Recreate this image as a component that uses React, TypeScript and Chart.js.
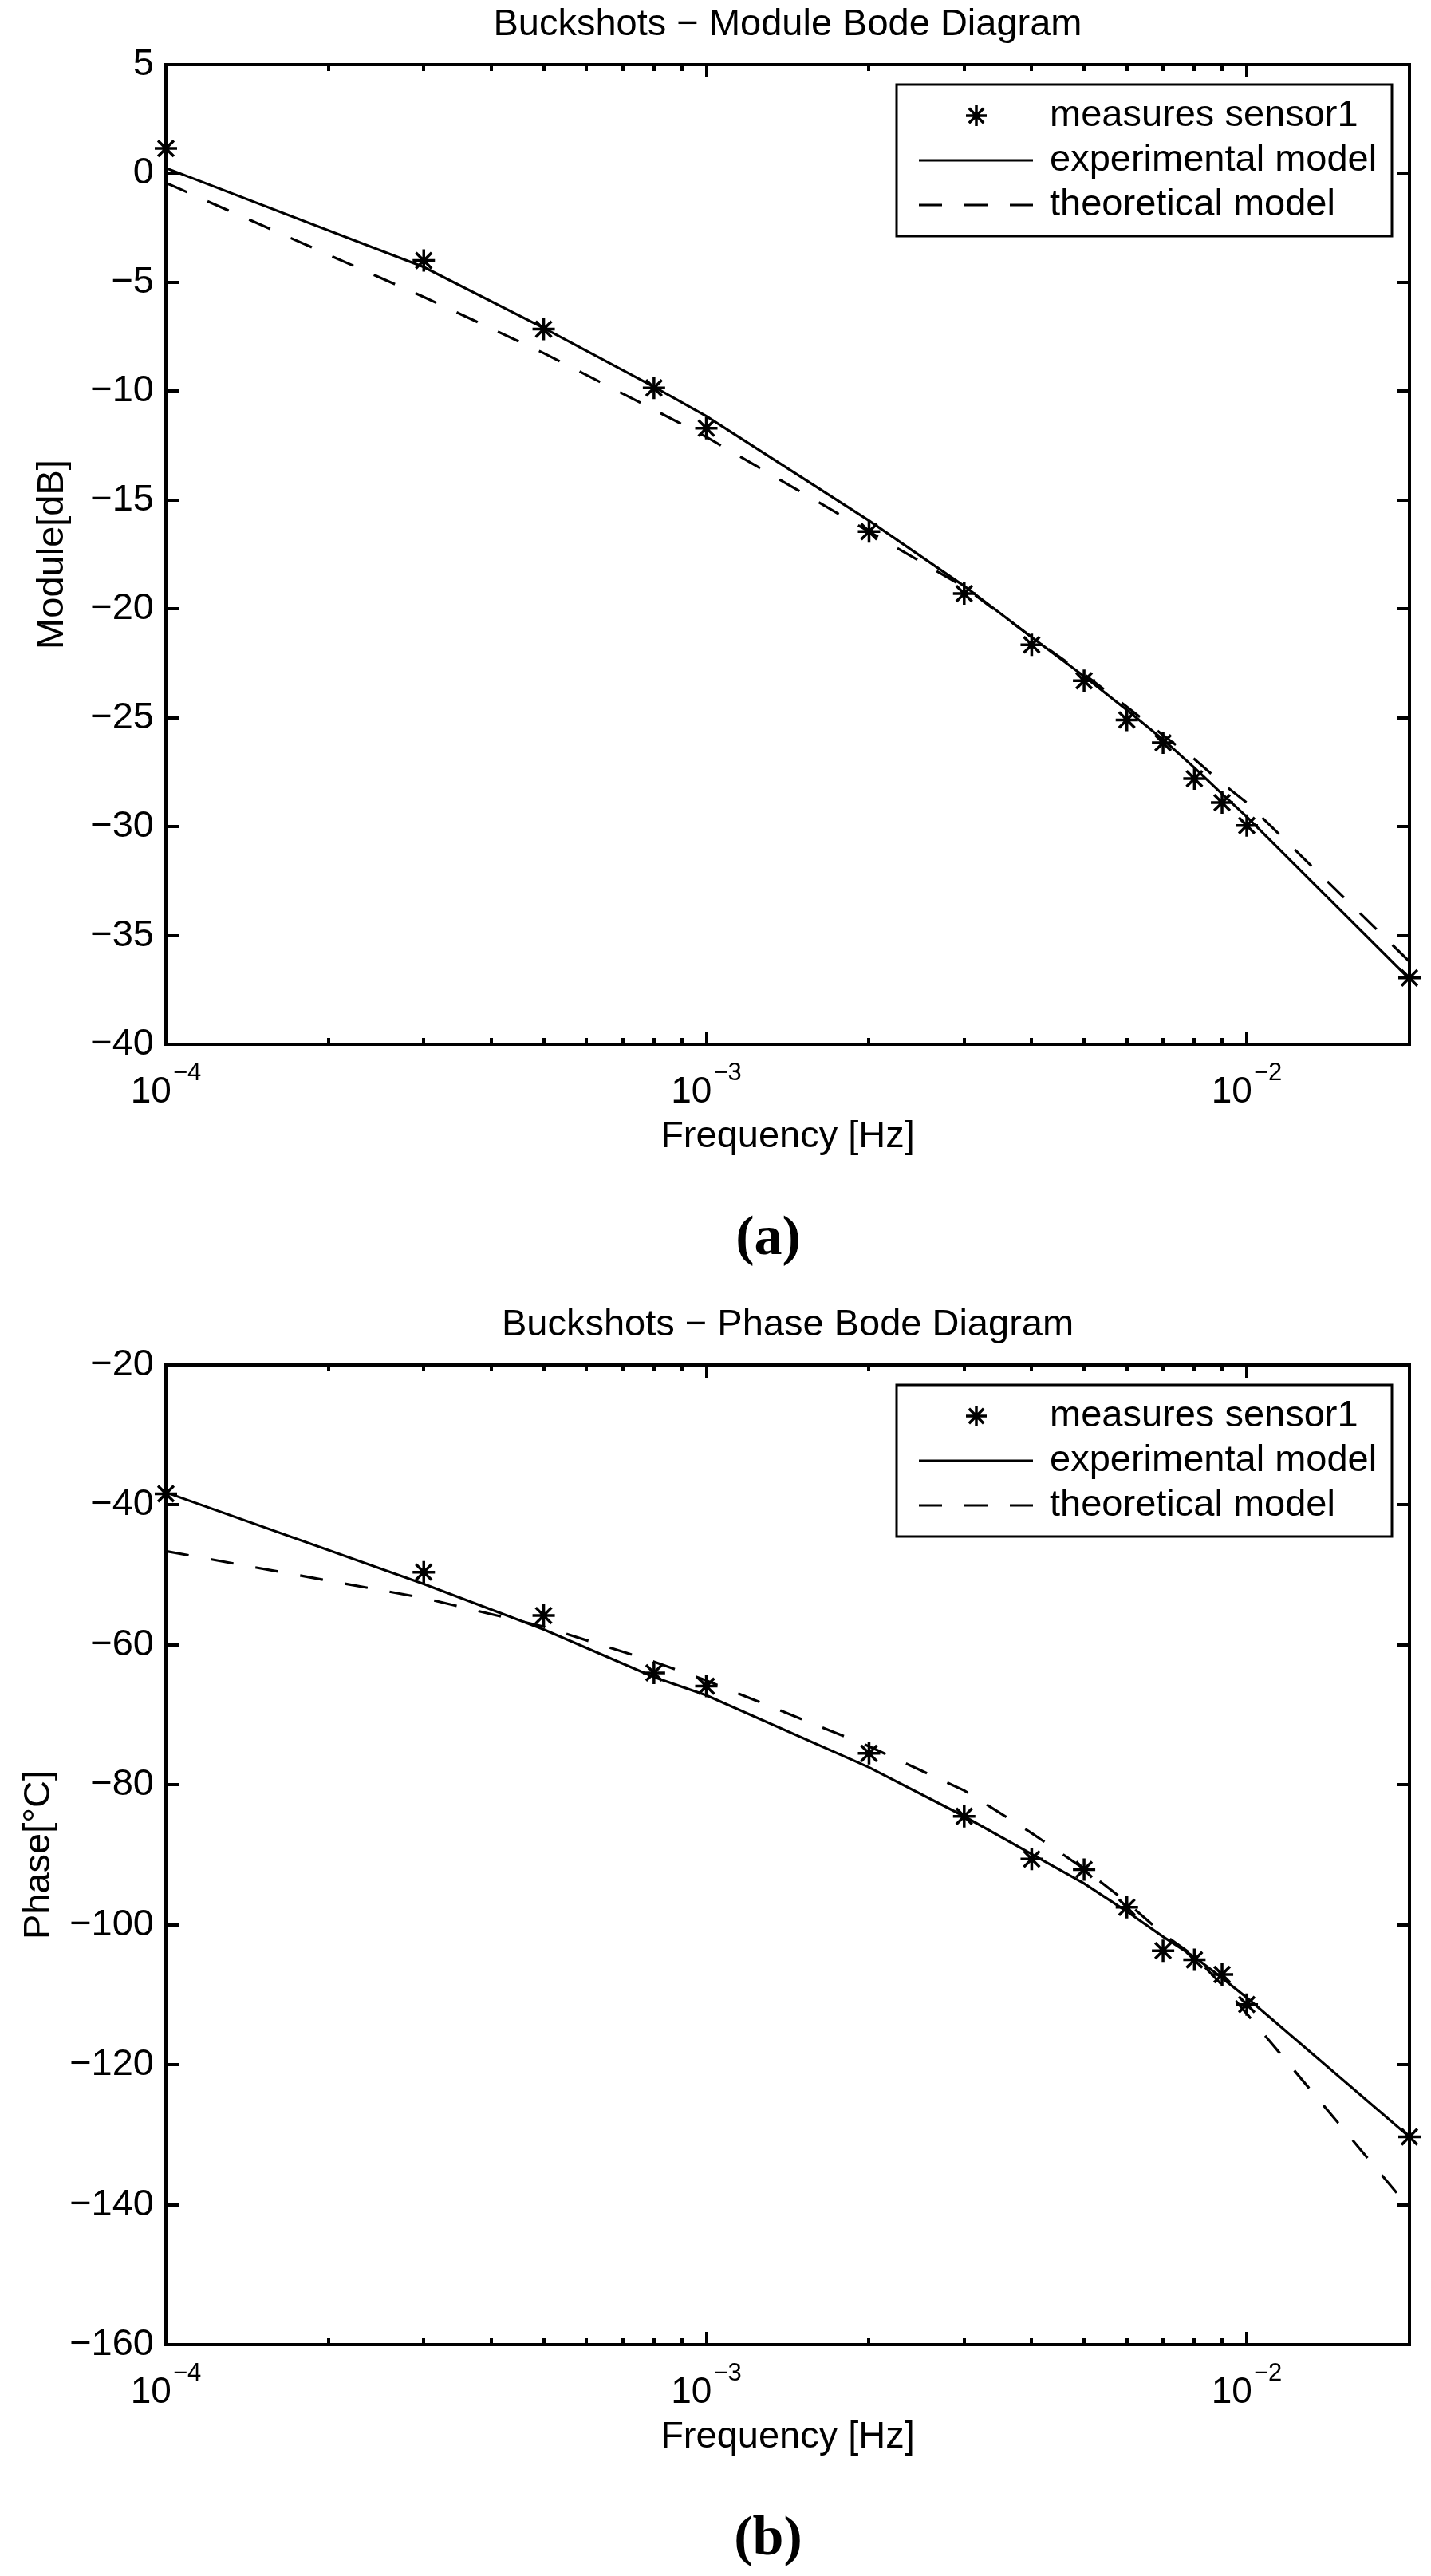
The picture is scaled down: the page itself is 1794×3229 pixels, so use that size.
import React, { useEffect, useRef } from 'react';
import { Chart, registerables } from 'chart.js';

Chart.register(...registerables);

// ---------- data ----------
const frequencies = [1e-4, 3e-4, 5e-4, 8e-4, 1e-3, 2e-3, 3e-3, 4e-3, 5e-3, 6e-3, 7e-3, 8e-3, 9e-3, 1e-2, 2e-2];

const moduleMeasures = [1.15, -4.0, -7.15, -9.85, -11.7, -16.45, -19.3, -21.65, -23.3, -25.1, -26.15, -27.8, -28.9, -29.95, -36.95];
const moduleExperimental = [0.25, -4.3, -7.1, -9.8, -11.15, -15.95, -18.95, -21.3, -23.1, -24.65, -26.0, -27.3, -28.5, -29.55, -37.0];
const moduleTheoretical = [-0.43, -5.67, -8.25, -10.85, -12.1, -16.45, -19.0, -21.3, -23.0, -24.5, -25.8, -26.9, -28.0, -28.9, -36.2];

const phaseMeasures = [-38.4, -49.6, -55.8, -64.0, -65.9, -75.5, -84.5, -90.6, -92.1, -97.5, -103.7, -105.0, -107.1, -111.4, -130.3];
const phaseExperimental = [-38.2, -51.3, -57.8, -64.6, -67.2, -77.5, -84.5, -89.9, -94.1, -98.1, -101.7, -104.6, -107.6, -110.4, -130.3];
const phaseTheoretical = [-46.6, -53.3, -57.4, -62.4, -65.1, -74.5, -80.8, -86.9, -92.0, -96.8, -101.3, -104.5, -108.6, -112.7, -140.5];

const moduleYTicks = [5, 0, -5, -10, -15, -20, -25, -30, -35, -40];
const phaseYTicks = [-20, -40, -60, -80, -100, -120, -140, -160];
const xDecades = [1e-4, 1e-3, 1e-2];
const xDecadeExponents = ['\u22124', '\u22123', '\u22122'];
const legendLabels = ['measures sensor1', 'experimental model', 'theoretical model'];

// ---------- style ----------
const FONT = "'Liberation Sans', Arial, Helvetica, sans-serif";
const SERIF = "'Liberation Serif', 'Times New Roman', serif";
const DASH = [29, 28];
const W = 1794;

type Panel = {
  title: string;
  yTitle: string;
  yTitleX: number;
  yMin: number;
  yMax: number;
  yTicks: number[];
  measures: number[];
  experimental: number[];
  theoretical: number[];
  caption: string;
  height: number;
};

const fmt = (v: number) => (v < 0 ? '\u2212' + Math.abs(v) : String(v));

function drawStar(ctx: CanvasRenderingContext2D, x: number, y: number, r: number) {
  const d = r * Math.SQRT1_2;
  ctx.beginPath();
  ctx.moveTo(x, y - r); ctx.lineTo(x, y + r);
  ctx.moveTo(x - r, y); ctx.lineTo(x + r, y);
  ctx.moveTo(x - d, y - d); ctx.lineTo(x + d, y + d);
  ctx.moveTo(x - d, y + d); ctx.lineTo(x + d, y - d);
  ctx.stroke();
}

const matlabPlugin = {
  id: 'matlab',
  afterDraw(chart: any, _args: any, o: any) {
    const { ctx, chartArea: a } = chart;
    const xs = chart.scales.x;
    const ys = chart.scales.y;
    ctx.save();
    ctx.strokeStyle = '#000';
    ctx.fillStyle = '#000';
    ctx.setLineDash([]);
    ctx.lineCap = 'butt';

    // inward ticks
    ctx.lineWidth = 4;
    ctx.beginPath();
    for (const d of xDecades) {
      for (let m = 1; m <= 9; m++) {
        const v = d * m;
        if (v <= xs.min * 1.0001 || v >= xs.max * 0.9999) continue;
        const px = Math.round(xs.getPixelForValue(v));
        const len = m === 1 ? 16 : 8;
        ctx.moveTo(px, a.bottom); ctx.lineTo(px, a.bottom - len);
        ctx.moveTo(px, a.top); ctx.lineTo(px, a.top + len);
      }
    }
    for (const v of o.yTicks) {
      const py = Math.round(ys.getPixelForValue(v));
      ctx.moveTo(a.left, py); ctx.lineTo(a.left + 16, py);
      ctx.moveTo(a.right, py); ctx.lineTo(a.right - 16, py);
    }
    ctx.stroke();
    ctx.strokeRect(a.left, a.top, a.right - a.left, a.bottom - a.top);

    // y tick labels
    ctx.font = `47px ${FONT}`;
    ctx.textAlign = 'right';
    ctx.textBaseline = 'middle';
    for (const v of o.yTicks) {
      ctx.fillText(fmt(v), a.left - 15, ys.getPixelForValue(v));
    }

    // x tick labels 10^k
    ctx.textBaseline = 'alphabetic';
    ctx.textAlign = 'left';
    xDecades.forEach((d, i) => {
      const px = xs.getPixelForValue(d);
      ctx.font = `46px ${FONT}`;
      const w1 = ctx.measureText('10').width;
      ctx.font = `31px ${FONT}`;
      const w2 = ctx.measureText(xDecadeExponents[i]).width;
      const gap = 2;
      const x0 = px - (w1 + gap + w2) / 2;
      ctx.font = `46px ${FONT}`;
      ctx.fillText('10', x0, a.bottom + 73);
      ctx.font = `31px ${FONT}`;
      ctx.fillText(xDecadeExponents[i], x0 + w1 + gap, a.bottom + 45);
    });

    // titles
    const cx = (a.left + a.right) / 2;
    ctx.font = `47px ${FONT}`;
    ctx.textAlign = 'center';
    ctx.fillText(o.title, cx, a.top - 37);
    ctx.fillText('Frequency [Hz]', cx, a.bottom + 129);

    ctx.save();
    ctx.translate(o.yTitleX, (a.top + a.bottom) / 2);
    ctx.rotate(-Math.PI / 2);
    ctx.textAlign = 'center';
    ctx.fillText(o.yTitle, 0, 0);
    ctx.restore();

    // caption
    ctx.font = `bold 70px ${SERIF}`;
    ctx.textAlign = 'center';
    ctx.fillText(o.caption, 963, a.bottom + 263);

    // legend
    const L = a.right - 643;
    const R = a.right - 22;
    const T = a.top + 25;
    const B = a.top + 215;
    ctx.fillStyle = '#fff';
    ctx.fillRect(L, T, R - L, B - T);
    ctx.lineWidth = 3;
    ctx.strokeRect(L, T, R - L, B - T);
    const rows = [39, 95, 151];
    ctx.lineWidth = 3.5;
    drawStar(ctx, L + 100, T + rows[0], 13);
    ctx.lineWidth = 3;
    ctx.beginPath();
    ctx.moveTo(L + 28, T + rows[1]); ctx.lineTo(L + 171, T + rows[1]);
    ctx.stroke();
    ctx.setLineDash(DASH);
    ctx.beginPath();
    ctx.moveTo(L + 28, T + rows[2]); ctx.lineTo(L + 171, T + rows[2]);
    ctx.stroke();
    ctx.setLineDash([]);
    ctx.fillStyle = '#000';
    ctx.font = `47px ${FONT}`;
    ctx.textAlign = 'left';
    ctx.textBaseline = 'middle';
    legendLabels.forEach((t, i) => ctx.fillText(t, L + 192, T + rows[i]));

    ctx.restore();
  },
};

function makeConfig(p: Panel): any {
  const pts = (vals: number[]) => frequencies.map((f, i) => ({ x: f, y: vals[i] }));
  return {
    type: 'scatter',
    data: {
      datasets: [
        {
          label: legendLabels[0],
          data: pts(p.measures),
          showLine: false,
          pointStyle: 'star',
          pointRadius: 14,
          pointBorderWidth: 3.5,
          pointBorderColor: '#000',
          pointBackgroundColor: '#000',
          borderColor: '#000',
          clip: false,
        },
        {
          label: legendLabels[1],
          data: pts(p.experimental),
          showLine: true,
          pointRadius: 0,
          borderWidth: 3.2,
          borderColor: '#000',
          tension: 0,
          fill: false,
        },
        {
          label: legendLabels[2],
          data: pts(p.theoretical),
          showLine: true,
          pointRadius: 0,
          borderWidth: 3.2,
          borderColor: '#000',
          borderDash: DASH,
          tension: 0,
          fill: false,
        },
      ],
    },
    options: {
      animation: false,
      responsive: false,
      devicePixelRatio: 1,
      events: [],
      layout: { padding: { left: 208, right: W - 1767, top: 81, bottom: p.height - 1309 } },
      plugins: {
        legend: { display: false },
        title: { display: false },
        tooltip: { enabled: false },
        matlab: {
          title: p.title,
          yTitle: p.yTitle,
          yTitleX: p.yTitleX,
          yTicks: p.yTicks,
          caption: p.caption,
        },
      },
      scales: {
        x: { type: 'logarithmic', min: 1e-4, max: 2e-2, display: false },
        y: { type: 'linear', min: p.yMin, max: p.yMax, display: false },
      },
    },
    plugins: [matlabPlugin],
  };
}

const modulePanel: Panel = {
  title: 'Buckshots \u2212 Module Bode Diagram',
  yTitle: 'Module[dB]',
  yTitleX: 79,
  yMin: -40,
  yMax: 5,
  yTicks: moduleYTicks,
  measures: moduleMeasures,
  experimental: moduleExperimental,
  theoretical: moduleTheoretical,
  caption: '(a)',
  height: 1630,
};

const phasePanel: Panel = {
  title: 'Buckshots \u2212 Phase Bode Diagram',
  yTitle: 'Phase[\u00B0C]',
  yTitleX: 62,
  yMin: -160,
  yMax: -20,
  yTicks: phaseYTicks,
  measures: phaseMeasures,
  experimental: phaseExperimental,
  theoretical: phaseTheoretical,
  caption: '(b)',
  height: 1599,
};

function BodePanel({ panel }: { panel: Panel }) {
  const ref = useRef<HTMLCanvasElement | null>(null);
  useEffect(() => {
    if (!ref.current) return;
    const chart = new Chart(ref.current, makeConfig(panel));
    return () => chart.destroy();
  }, [panel]);
  return <canvas ref={ref} width={W} height={panel.height} style={{ display: 'block' }} />;
}

export default function App() {
  useEffect(() => {
    document.body.style.margin = '0';
    document.body.style.background = '#fff';
  }, []);
  return (
    <div style={{ width: W, background: '#fff' }}>
      <BodePanel panel={modulePanel} />
      <BodePanel panel={phasePanel} />
    </div>
  );
}
